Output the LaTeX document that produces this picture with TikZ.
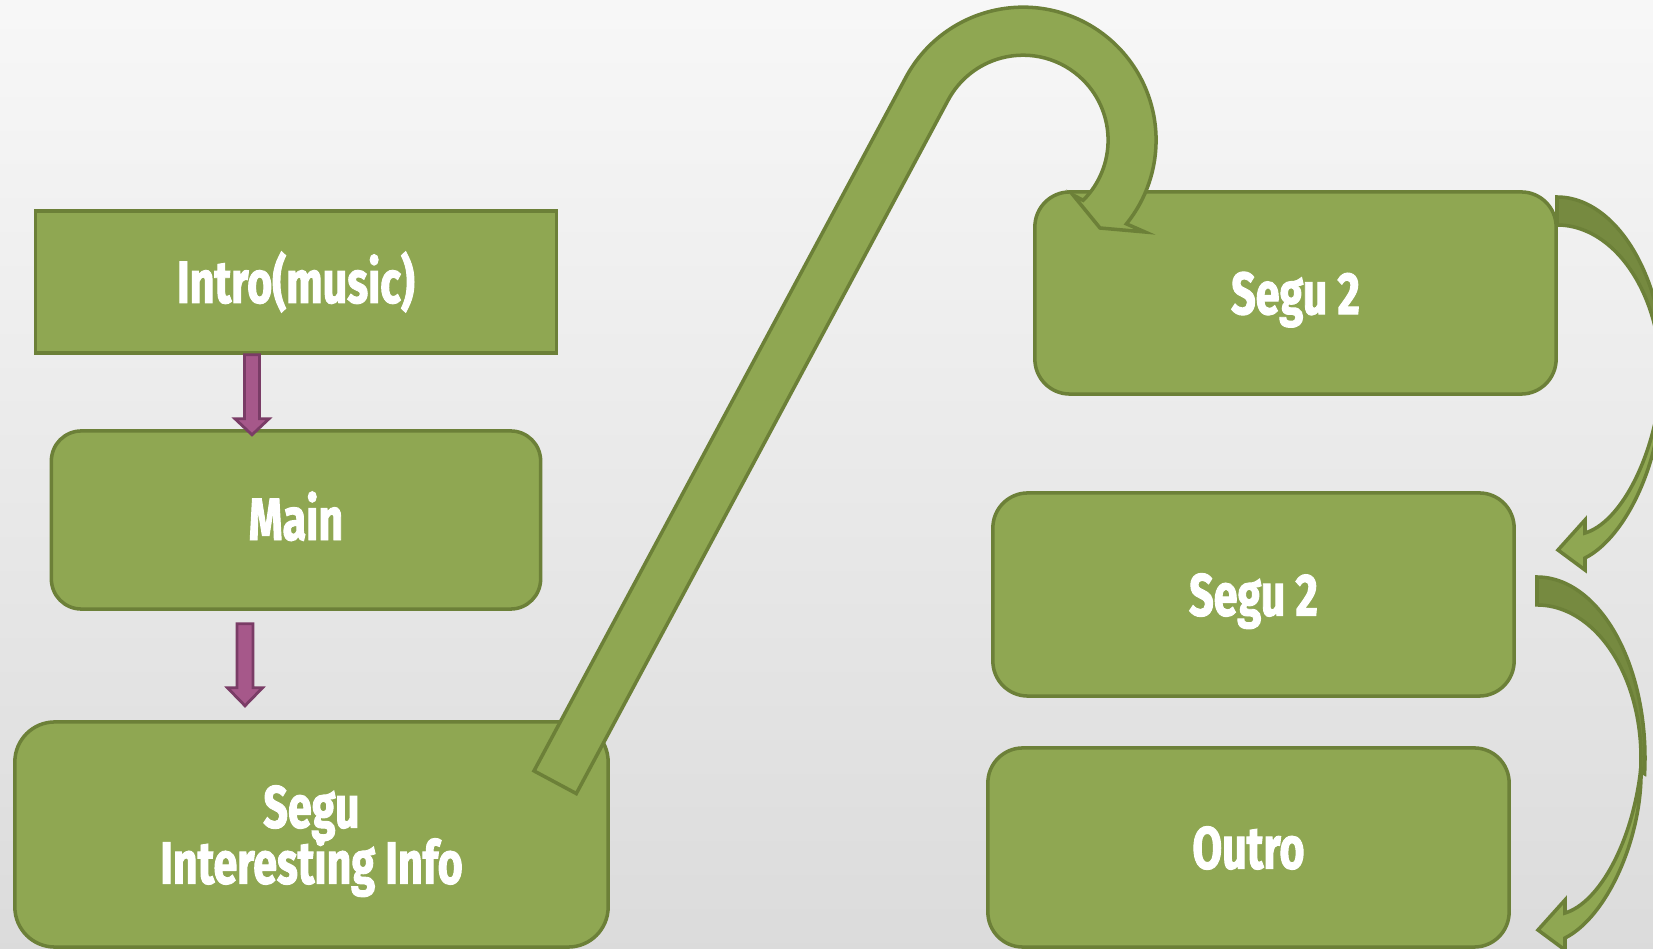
\documentclass[tikz,border=0pt]{standalone}
\usepackage{fontspec}
\newfontfamily\boxfont{Fira Sans}[FakeStretch=0.72,FakeBold=1.6]
\newcommand\boxtextfont{\boxfont\bfseries\fontsize{17}{15.9}\selectfont\lineskiplimit=-20pt\relax}
\usetikzlibrary{calc}
\definecolor{olivefill}{RGB}{143,167,82}
\definecolor{olivedraw}{RGB}{108,128,56}
\definecolor{oliveback}{RGB}{118,138,64}
\definecolor{plumfill}{RGB}{166,88,138}
\definecolor{plumdraw}{RGB}{122,60,102}

\begin{document}
\begin{tikzpicture}[x=0.01cm,y=-0.01cm,
    box/.style={draw=olivedraw,fill=olivefill,line width=1pt,inner sep=0pt,minimum width=5.21cm,
        text=white,align=center,font=\boxtextfont},
    roundbox/.style={box,text depth=0pt,rounded corners=0.35cm},
    plumarrow/.style={draw=plumdraw,fill=plumfill,line width=0.8pt},
    bigarrow/.style={draw=olivedraw,fill=olivefill,line width=1pt},
    backarrow/.style={draw=olivedraw,fill=oliveback,line width=1pt}]
                    \useasboundingbox (0,0) rectangle (1653,949);
                    \shade[top color=black!3,bottom color=black!14] (0,0) rectangle (1653,949);
                    \clip (0,0) rectangle (1653,949);
                    % boxes
                    \node[box,minimum height=1.42cm] (intro) at (296,282) {Intro(music)};
                    \node[roundbox,minimum width=4.89cm,minimum height=1.78cm,rounded corners=0.3cm,text depth=2.4pt] (main) at (296,520) {Main};
                    \node[roundbox,minimum width=5.93cm,minimum height=2.25cm,rounded corners=0.4cm] (segu) at (311.5,834.5) {Segu\\Interesting Info};
                    \node[roundbox,minimum height=2.02cm] (segutop) at (1295.5,293) {Segu 2};
                    \node[roundbox,minimum height=2.03cm] (segumid) at (1253.5,594.5) {Segu 2};
                    \node[roundbox,minimum height=1.99cm] (outro) at (1248.5,847.5) {Outro};
                    % purple arrows
                    \coordinate (p1) at ($(intro.south)+(-44,0)$);
                    \coordinate (p2) at ($(main.south)+(-51,13)$);
                    \draw[plumarrow,shift={(p1)}] (-7.5,0) -- (-7.5,64) -- (-17,64) -- (0,80) -- (17,64) -- (7.5,64) -- (7.5,0) -- cycle;
                    \draw[plumarrow,shift={(p2)}] (-8,0) -- (-8,64) -- (-17.5,64) -- (0,82) -- (17.5,64) -- (8,64) -- (8,0) -- cycle;
                    % u-turn arrow from segu to segutop
                    \coordinate (c) at ($(segutop.north west)+(-10,-50)$);
                    \draw[bigarrow] ($(c)+(208.2:133)+(118.2:787)$) -- ($(c)+(208.2:133)$)
                        arc[start angle=208.2,end angle=399,radius=133]
                        -- (1145,232) -- (1100,228) -- (1073,195) -- ($(c)+(45:85)$)
                        arc[start angle=405,end angle=208.2,radius=85]
                        -- ($(c)+(208.2:85)+(118.2:787)$) -- cycle;
                    % curved arrows on the right
                    \coordinate (r1) at (1557,197);
                    \coordinate (r2) at (1537,577);
                    \draw[backarrow,shift={(r1)}] (0,0) arc[start angle=-90,end angle=5,x radius=108,y radius=181]
                        -- (103.6,194.3) arc[start angle=5,end angle=-90,x radius=104,y radius=153] -- cycle;
                    \draw[bigarrow,shift={(r1)}] (104,190) .. controls (106,260) and (70,340) .. (28,361) -- (28,373) -- (1,353)
                        -- (28,323) -- (28,336) .. controls (62,326) and (96,265) .. (104,190) -- cycle;
                    \draw[backarrow,shift={(r2)}] (0,0) arc[start angle=-90,end angle=5,x radius=108,y radius=181]
                        -- (103.6,194.3) arc[start angle=5,end angle=-90,x radius=104,y radius=153] -- cycle;
                    \draw[bigarrow,shift={(r2)}] (104,190) .. controls (106,260) and (70,340) .. (28,361) -- (28,373) -- (1,353)
                        -- (28,323) -- (28,336) .. controls (62,326) and (96,265) .. (104,190) -- cycle;
                \end{tikzpicture}
\end{document}
